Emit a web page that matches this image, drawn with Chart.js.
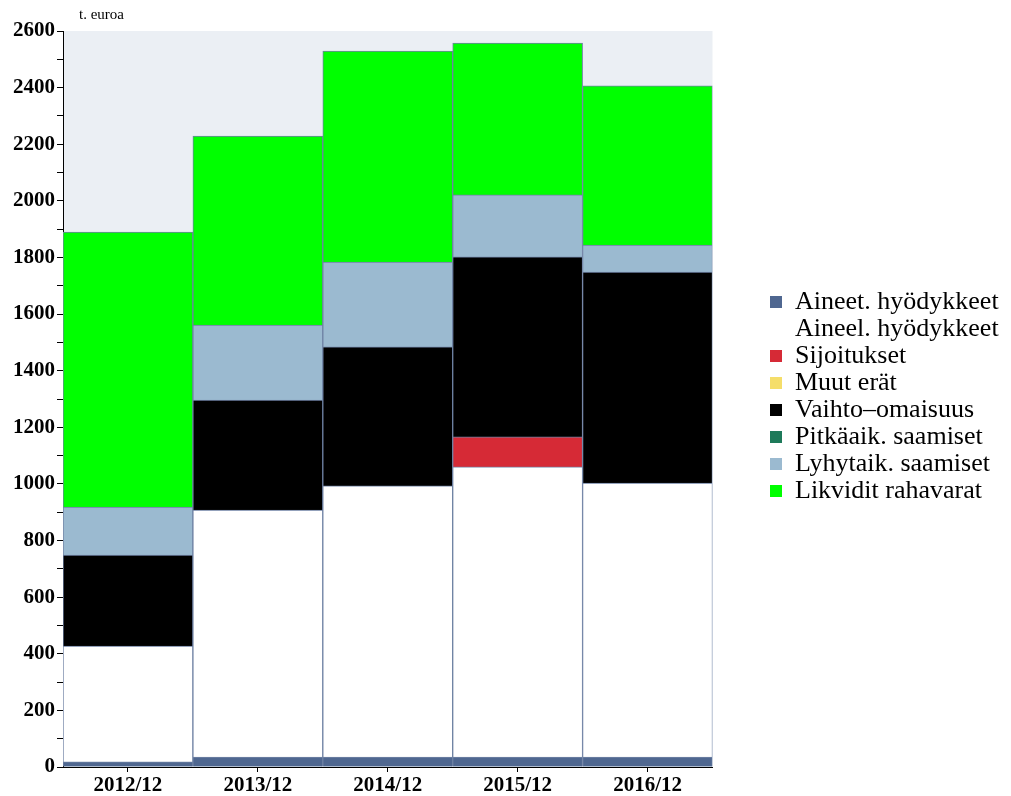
<!DOCTYPE html>
<html>
<head>
<meta charset="utf-8">
<script src="https://cdn.jsdelivr.net/npm/chart.js@4"></script>
<style>
  body { margin: 0; background: #fff; }
  #wrap { width: 1011px; height: 796px; }
</style>
</head>
<body>
<div id="wrap"><canvas id="chart" width="1011" height="796"></canvas></div>
<script>
var years = ['2012/12', '2013/12', '2014/12', '2015/12', '2016/12'];
var aineet = [18, 35, 35, 35, 35];
var aineel = [409, 873, 958, 1025, 968];
var sijoitukset = [0, 0, 0, 106, 0];
var muutErat = [0, 0, 0, 0, 0];
var vaihto = [322, 388, 491, 636, 745];
var pitkaaik = [0, 0, 0, 0, 0];
var lyhytaik = [169, 265, 300, 219, 96];
var likvidit = [972, 668, 745, 536, 562];

var seriesNames = ['Aineet. hyödykkeet', 'Aineel. hyödykkeet', 'Sijoitukset', 'Muut erät',
     'Vaihto\u2013omaisuus', 'Pitkäaik. saamiset', 'Lyhytaik. saamiset', 'Likvidit rahavarat'];
var seriesData = [aineet, aineel, sijoitukset, muutErat, vaihto, pitkaaik, lyhytaik, likvidit];
var seriesColors = ['#4f6790', '#ffffff', '#d62a36', '#f5de6a', '#000000', '#1e7a5a', '#9bbad0', '#00ff00'];

var serif = "'Liberation Serif', 'DejaVu Serif', serif";

// plot background, unit label, legend moved a bit right of the plot
var extras = {
     id: 'extras',
     afterLayout: function (chart) {
          var lg = chart.legend;
          var shift = 770 - 1 - lg.left;
          lg.left += shift;
          lg.right += shift;
          lg.top -= 17;
          lg.bottom -= 17;
     },
     beforeDraw: function (chart) {
          var a = chart.chartArea, ctx = chart.ctx;
          ctx.save();
          ctx.fillStyle = '#ebeff4';
          ctx.fillRect(a.left, a.top, a.right - a.left, a.bottom - a.top);
          ctx.restore();
     },
     afterDraw: function (chart) {
          var ctx = chart.ctx;
          ctx.save();
          ctx.fillStyle = '#000';
          ctx.font = '15px ' + serif;
          ctx.textBaseline = 'alphabetic';
          ctx.fillText('t. euroa', chart.chartArea.left + 16, 19);
          ctx.restore();
     }
};

var datasets = [];
for (var i = 0; i < seriesNames.length; i++) {
     datasets.push({
          label: seriesNames[i],
          data: seriesData[i],
          backgroundColor: seriesColors[i],
          borderColor: '#6f82a4',
          borderWidth: 1,
          barPercentage: 1,
          categoryPercentage: 1
     });
}

new Chart(document.getElementById('chart').getContext('2d'), {
     type: 'bar',
     data: { labels: years, datasets: datasets },
     options: {
          responsive: false,
          animation: false,
          layout: { padding: { top: 31, right: 61, bottom: 0, left: 0 } },
          plugins: {
               legend: {
                    position: 'right',
                    labels: {
                         font: { family: serif, size: 26 },
                         color: '#000',
                         boxWidth: 12,
                         boxHeight: 12,
                         padding: 1,
                         generateLabels: function (chart) {
                              return chart.data.datasets.map(function (ds, idx) {
                                   return {
                                        text: ds.label,
                                        fillStyle: ds.backgroundColor,
                                        strokeStyle: ds.backgroundColor,
                                        lineWidth: 0,
                                        datasetIndex: idx,
                                        fontColor: '#000'
                                   };
                              });
                         }
                    }
               },
               tooltip: { enabled: false }
          },
          scales: {
               x: {
                    stacked: true,
                    afterFit: function (s) { s.height = 29; },
                    grid: { display: true, drawOnChartArea: false, offset: false, tickLength: 5, color: '#000' },
                    border: { display: true, color: '#000', width: 1 },
                    ticks: { font: { family: serif, size: 21, weight: 'bold' }, color: '#000', padding: 1 }
               },
               y: {
                    stacked: true,
                    min: 0,
                    max: 2600,
                    afterFit: function (s) { s.width = 63; },
                    grid: { display: true, drawOnChartArea: false, tickLength: 6, color: '#000' },
                    border: { display: true, color: '#000', width: 1 },
                    ticks: {
                         stepSize: 100,
                         autoSkip: false,
                         font: { family: serif, size: 21, weight: 'bold' },
                         color: '#000',
                         padding: 2,
                         callback: function (v) { return v % 200 === 0 ? v : ''; }
                    }
               }
          }
     },
     plugins: [extras]
});
</script>
</body>
</html>
